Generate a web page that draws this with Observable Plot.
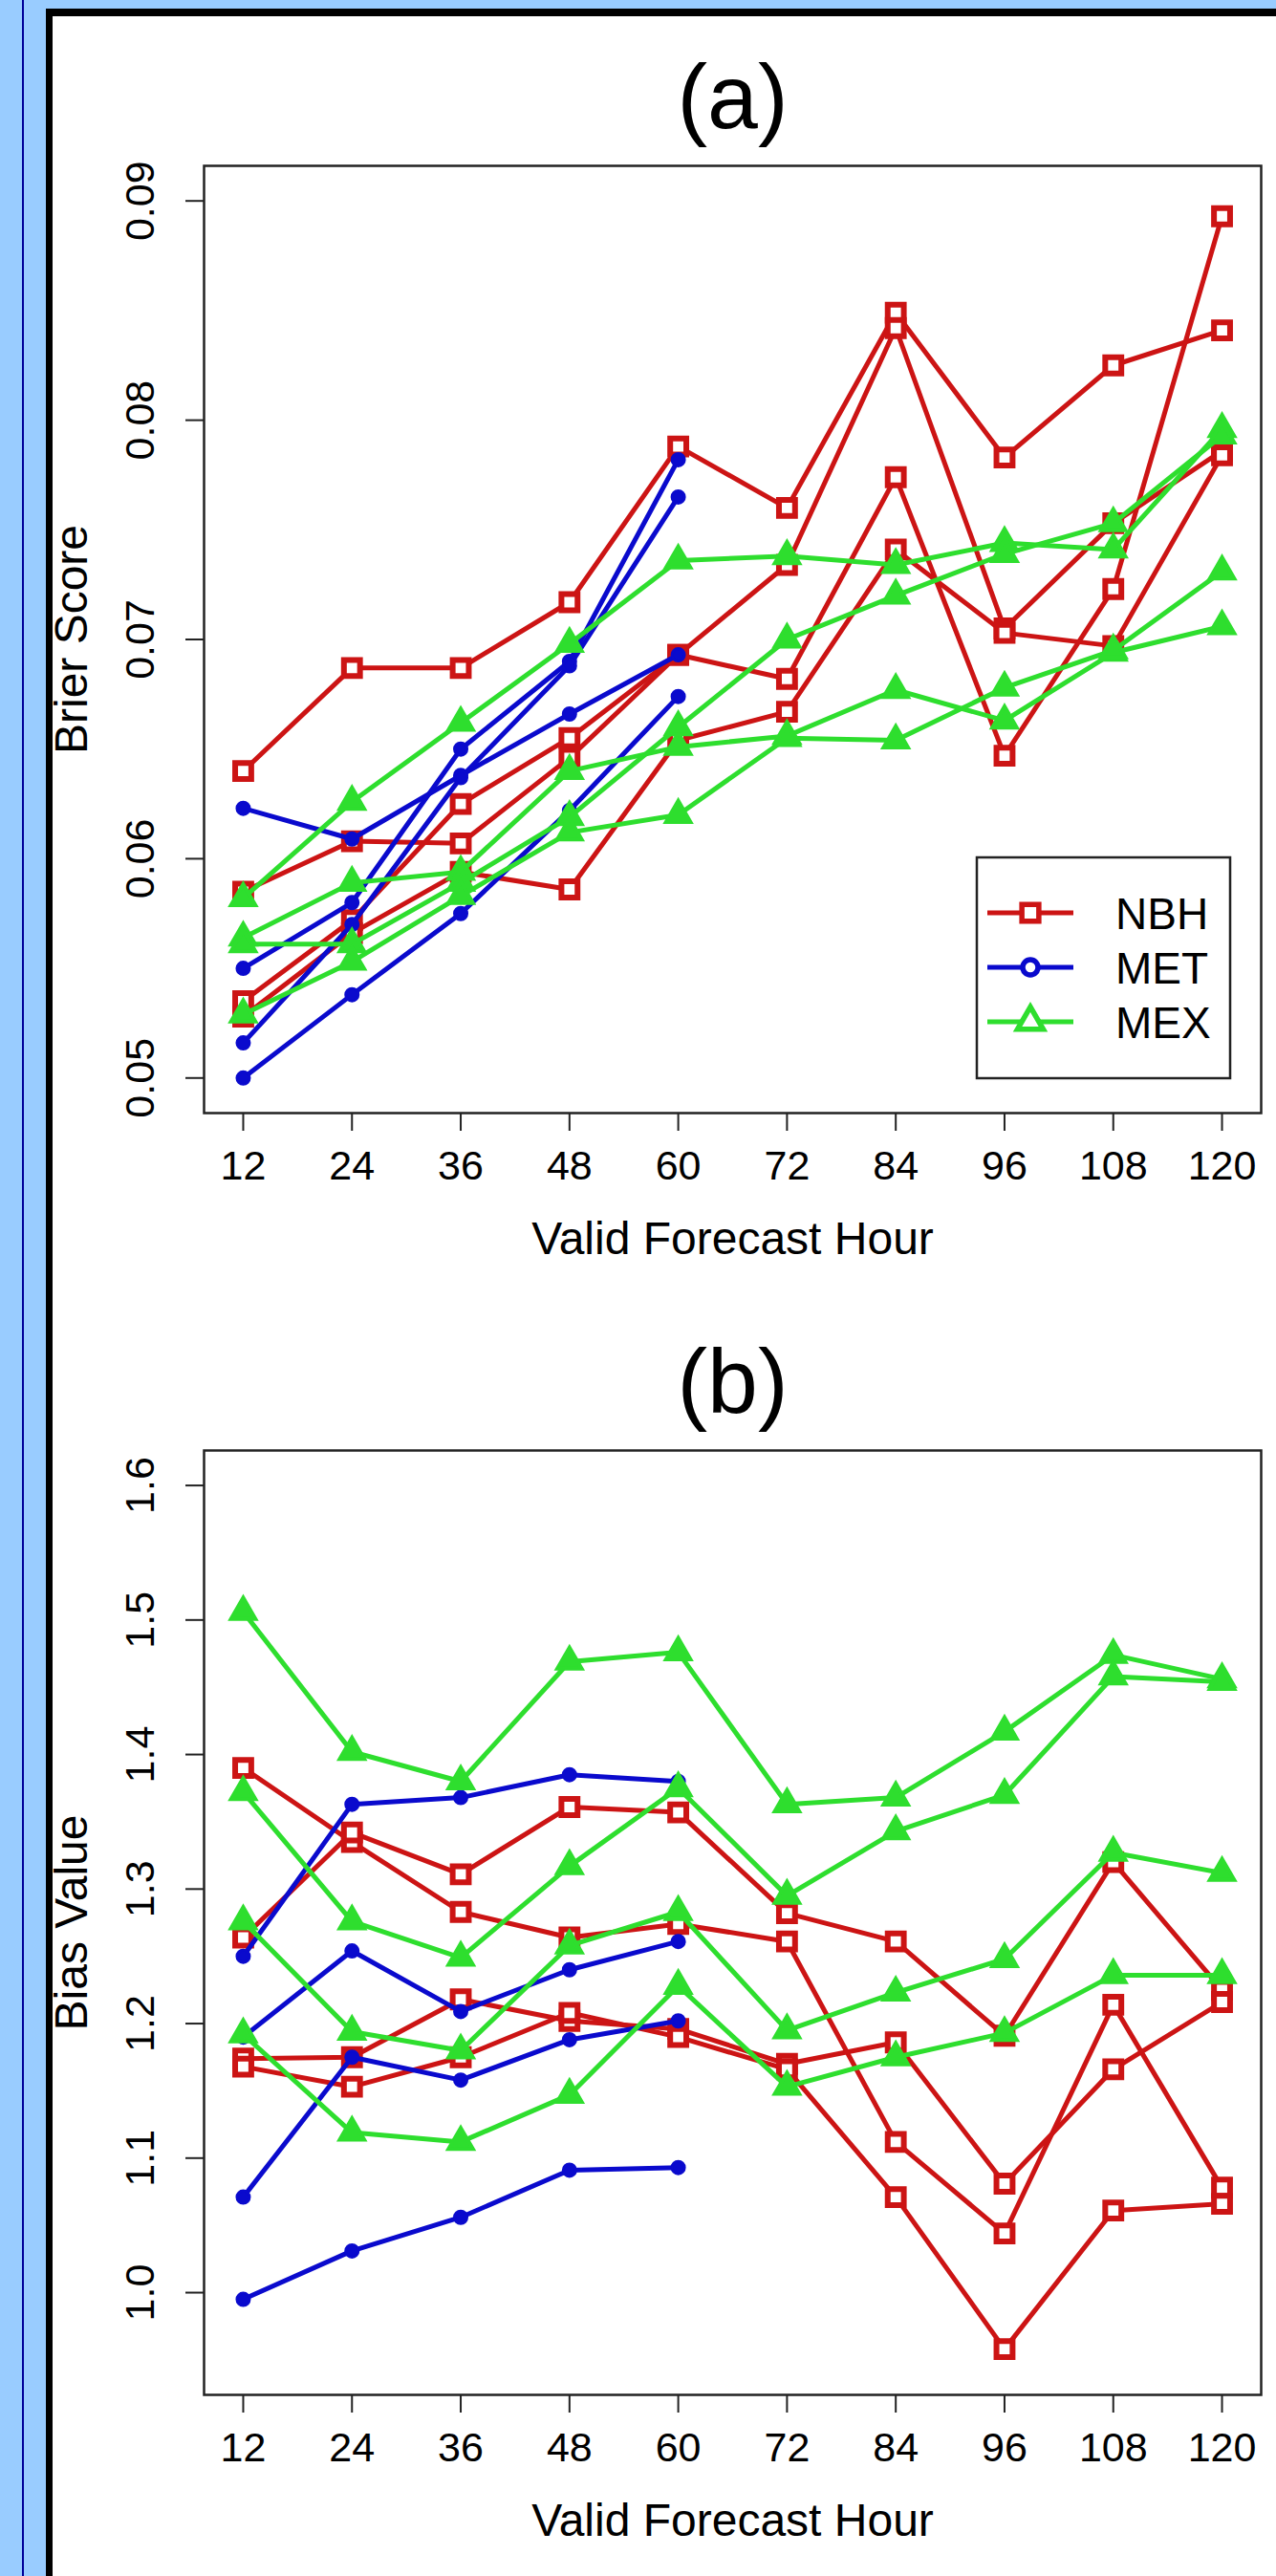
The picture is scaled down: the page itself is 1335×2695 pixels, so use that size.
<!DOCTYPE html>
<html><head><meta charset="utf-8">
<script src="https://cdn.jsdelivr.net/npm/d3@7"></script>
<script src="https://cdn.jsdelivr.net/npm/@observablehq/plot@0.6"></script>
<style>
html,body{margin:0;padding:0;}
body{width:1335px;height:2695px;position:relative;overflow:hidden;background:#99ccff;font-family:"Liberation Sans",Arial,sans-serif;}
#rule{position:absolute;left:23px;top:0;width:2px;height:2695px;background:#000099;}
#sheet{position:absolute;left:48px;top:9px;width:1280px;height:2686px;border-left:7px solid #000;border-top:8px solid #000;background:#fff;}
.panel{position:absolute;left:0;}
.panel svg{display:block;}
</style></head><body>
<div id="rule"></div>
<div id="sheet"><div id="pa" class="panel" style="top:0"></div><div id="pb" class="panel" style="top:1344px"></div></div>
<script>
// ---------- data ----------
const hours = [12, 24, 36, 48, 60, 72, 84, 96, 108, 120];
const models = ["NBH", "MET", "MEX"];
const modelColors = ["#cc1414", "#0a0acd", "#2ede2e"];

// Panel (a): Brier Score
const brierTicks = [0.05, 0.06, 0.07, 0.08, 0.09];
const brierNBH = [
  [0.0640, 0.0687, 0.0687, 0.0717, 0.0788, 0.0760, 0.0849, 0.0783, 0.0825, 0.0841],
  [0.0585, 0.0608, 0.0607, 0.0646, 0.0693, 0.0734, 0.0842, 0.0705, 0.0753, 0.0786],
  [0.0535, 0.0572, 0.0625, 0.0655, 0.0693, 0.0682, 0.0774, 0.0647, 0.0723, 0.0893],
  [0.0528, 0.0566, 0.0594, 0.0586, 0.0654, 0.0667, 0.0741, 0.0703, 0.0697, 0.0784]
];
const brierMET = [
  [0.0623, 0.0609, 0.0638, 0.0666, 0.0693],
  [0.0550, 0.0580, 0.0650, 0.0690, 0.0782],
  [0.0516, 0.0570, 0.0637, 0.0688, 0.0765],
  [0.0500, 0.0538, 0.0575, 0.0622, 0.0674]
];
const brierMEX = [
  [0.0582, 0.0626, 0.0662, 0.0698, 0.0736, 0.0738, 0.0734, 0.0744, 0.0741, 0.0796],
  [0.0564, 0.0589, 0.0594, 0.0640, 0.0651, 0.0656, 0.0677, 0.0663, 0.0694, 0.0706],
  [0.0561, 0.0561, 0.0589, 0.0619, 0.0660, 0.0700, 0.0720, 0.0739, 0.0753, 0.0793],
  [0.0529, 0.0553, 0.0583, 0.0612, 0.0620, 0.0655, 0.0654, 0.0678, 0.0695, 0.0731]
];

// Panel (b): Bias Value
const biasTicks = [1.0, 1.1, 1.2, 1.3, 1.4, 1.5, 1.6];
const biasNBH = [
  [1.390, 1.335, 1.283, 1.264, 1.274, 1.261, 1.112, 1.044, 1.214, 1.078],
  [1.264, 1.342, 1.311, 1.361, 1.357, 1.282, 1.261, 1.191, 1.320, 1.225],
  [1.174, 1.175, 1.218, 1.202, 1.196, 1.170, 1.186, 1.081, 1.166, 1.216],
  [1.168, 1.153, 1.175, 1.208, 1.190, 1.166, 1.071, 0.958, 1.061, 1.066]
];
const biasMET = [
  [1.250, 1.363, 1.368, 1.385, 1.380],
  [1.190, 1.254, 1.209, 1.240, 1.261],
  [1.071, 1.175, 1.158, 1.188, 1.202],
  [0.995, 1.031, 1.056, 1.091, 1.093]
];
const biasMEX = [
  [1.506, 1.402, 1.380, 1.469, 1.476, 1.363, 1.368, 1.417, 1.474, 1.456],
  [1.372, 1.276, 1.249, 1.317, 1.375, 1.295, 1.343, 1.370, 1.458, 1.454],
  [1.276, 1.194, 1.180, 1.258, 1.283, 1.195, 1.223, 1.248, 1.327, 1.312],
  [1.192, 1.119, 1.112, 1.147, 1.228, 1.153, 1.175, 1.193, 1.236, 1.236]
];

// ---------- drawing ----------
const FONT = "'Liberation Sans', Arial, Helvetica, sans-serif";
const symbols = {NBH: "square", MET: "circle", MEX: "triangle"};
const dotStyle = {
  NBH: {r: 9.5, fill: "white", strokeWidth: 6},
  MET: {r: 6.5, fill: null, strokeWidth: 3},
  MEX: {r: 9.5, fill: null, strokeWidth: 4}
};

function tidy(seriesList) {
  const rows = [];
  seriesList.forEach((lines, m) => {
    lines.forEach((vals, i) => {
      vals.forEach((v, j) => rows.push({model: models[m], id: models[m] + i, hour: hours[j], value: v}));
    });
  });
  return rows;
}

function makePanel({seriesList, yDomain, yTicks, yFormat, title, yLabel, height, marginBottom}) {
  const rows = tidy(seriesList);
  const marks = [
    Plot.frame({stroke: "#222", strokeWidth: 2.5}),
    Plot.axisX({ticks: hours, tickSize: 19, tickPadding: 20, stroke: "#222", strokeWidth: 2, fill: "#000", label: null, fontSize: 43}),
    Plot.axisY({ticks: yTicks, tickSize: 19, tickPadding: 34, tickRotate: -90, tickFormat: yFormat, stroke: "#222", strokeWidth: 2, fill: "#000", label: null, fontSize: 43})
  ];
  models.forEach((m, k) => {
    const data = rows.filter(r => r.model === m);
    const c = modelColors[k];
    const ds = dotStyle[m];
    marks.push(Plot.line(data, {x: "hour", y: "value", z: "id", stroke: c, strokeWidth: 5}));
    marks.push(Plot.dot(data, {x: "hour", y: "value", symbol: symbols[m], r: ds.r, stroke: c, fill: ds.fill || c, strokeWidth: ds.strokeWidth}));
  });
  marks.push(Plot.text([title], {text: d => d, frameAnchor: "top", dy: -40, lineAnchor: "bottom", fontSize: 95}));
  marks.push(Plot.text(["Valid Forecast Hour"], {text: d => d, frameAnchor: "bottom", dy: 147, lineAnchor: "bottom", textAnchor: "middle", fontSize: 48}));
  marks.push(Plot.text([yLabel], {text: d => d, frameAnchor: "left", dx: -123, rotate: -90, lineAnchor: "bottom", textAnchor: "middle", fontSize: 48}));
  return Plot.plot({
    width: 1280, height,
    marginLeft: 158, marginRight: 16, marginTop: 156, marginBottom,
    x: {domain: [7.68, 124.32]},
    y: {domain: yDomain},
    style: {fontFamily: FONT, fontSize: "43px", color: "#000", background: "transparent", overflow: "visible"},
    marks
  });
}

const plotA = makePanel({
  seriesList: [brierNBH, brierMET, brierMEX], yDomain: [0.0484, 0.0916], yTicks: brierTicks,
  yFormat: d3.format(".2f"), title: "(a)", yLabel: "Brier Score", height: 1344, marginBottom: 197
});
const plotB = makePanel({
  seriesList: [biasNBH, biasMET, biasMEX], yDomain: [0.924, 1.626], yTicks: biasTicks,
  yFormat: d3.format(".1f"), title: "(b)", yLabel: "Bias Value", height: 1334, marginBottom: 190
});
document.getElementById("pa").appendChild(plotA);
document.getElementById("pb").appendChild(plotB);

// ---------- legend (panel a, bottom-right inside frame) ----------
(function legend() {
  const xr = plotA.scale("x").range, yr = plotA.scale("y").range;
  const w = 265, h = 231;
  const x0 = xr[1] - 32 - w, y0 = yr[0] - 36 - h;
  const g = d3.select(plotA).append("g").attr("font-family", FONT).attr("text-anchor", "start");
  g.append("rect").attr("x", x0).attr("y", y0).attr("width", w).attr("height", h)
    .attr("fill", "white").attr("stroke", "#222").attr("stroke-width", 2.5);
  models.forEach((m, k) => {
    const cy = y0 + 58 + k * 57, c = modelColors[k];
    g.append("line").attr("x1", x0 + 11).attr("x2", x0 + 101).attr("y1", cy).attr("y2", cy)
      .attr("stroke", c).attr("stroke-width", 5);
    const rr = m === "MET" ? 8 : 10;
    const area = Math.PI * rr * rr;
    const sym = m === "NBH" ? d3.symbolSquare : m === "MET" ? d3.symbolCircle : d3.symbolTriangle;
    g.append("path").attr("d", d3.symbol(sym, area)()).attr("transform", `translate(${x0 + 56},${cy})`)
      .attr("fill", "white").attr("stroke", c).attr("stroke-width", 5.5);
    g.append("text").attr("x", x0 + 145).attr("y", cy).attr("dy", "0.36em")
      .attr("text-anchor", "start").attr("font-size", 46).attr("fill", "#000").text(m);
  });
})();
</script>
</body></html>
